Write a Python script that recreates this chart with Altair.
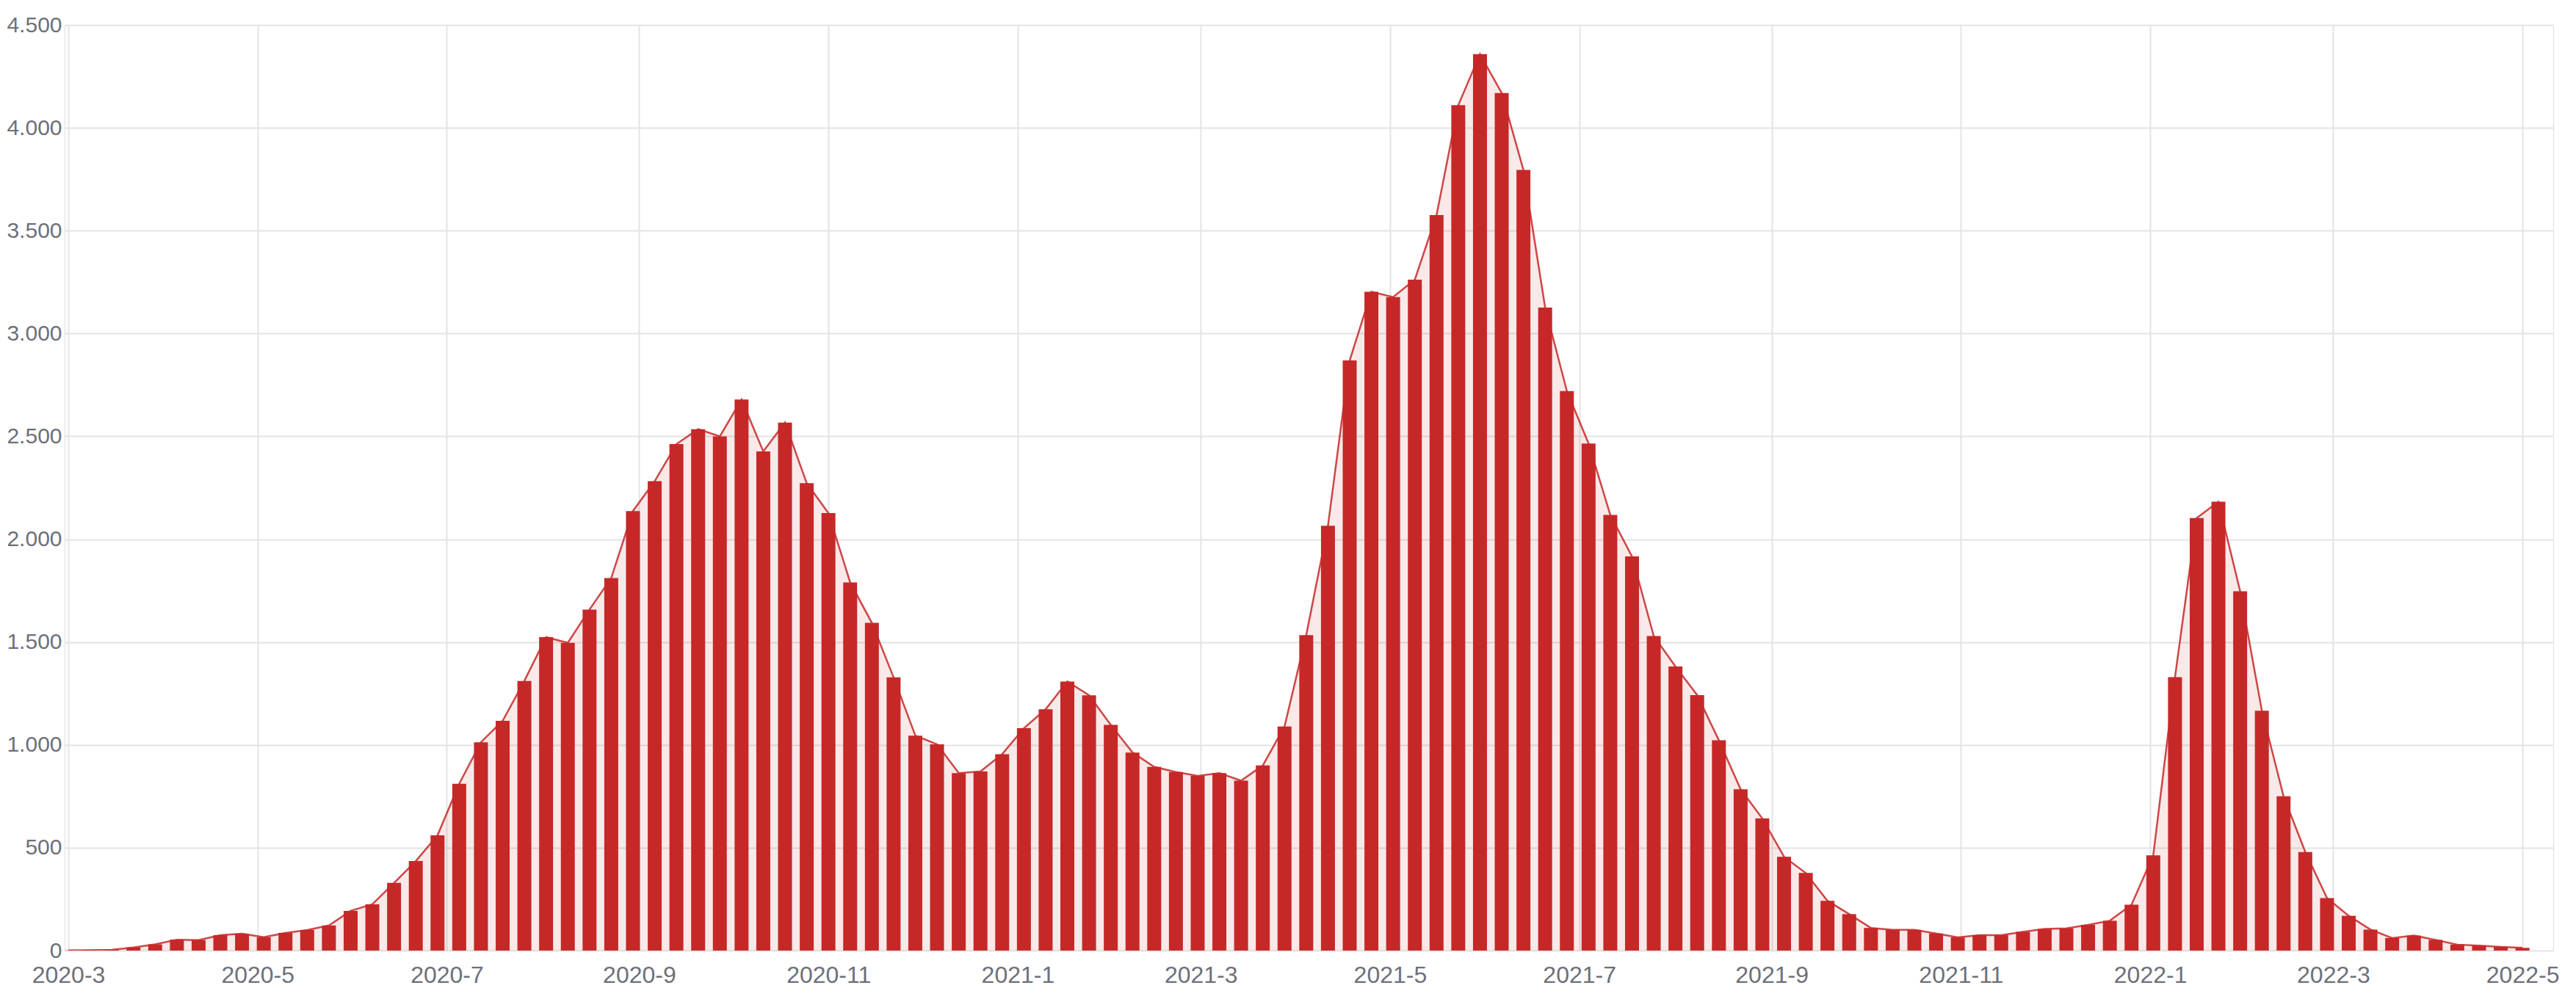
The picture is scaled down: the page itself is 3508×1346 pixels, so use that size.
import altair as alt
import pandas as pd

# Weekly new cases, one value per week starting 2020-03-01
first_week = "2020-03-01"
cases = [
    1, 2, 4, 15, 30, 53, 51, 75, 82, 65,
    86, 100, 122, 193, 225, 329, 435, 560, 811, 1013,
    1117, 1311, 1524, 1496, 1658, 1811, 2137, 2282, 2462, 2535,
    2500, 2679, 2427, 2567, 2272, 2127, 1790, 1593, 1328, 1045,
    1003, 863, 871, 955, 1081, 1173, 1308, 1241, 1097, 963,
    893, 868, 849, 863, 826, 900, 1089, 1534, 2065, 2869,
    3203, 3177, 3262, 3576, 4110, 4358, 4169, 3795, 3126, 2720,
    2465, 2118, 1916, 1529, 1381, 1242, 1022, 784, 642, 456,
    377, 242, 177, 110, 101, 101, 83, 64, 75, 75,
    91, 105, 108, 125, 145, 223, 463, 1329, 2103, 2182,
    1747, 1166, 750, 479, 255, 169, 102, 61, 73, 52,
    29, 24, 18, 13,
]
weeks = pd.date_range(first_week, periods=len(cases), freq="7D").strftime("%Y-%m-%d").tolist()

# x tick positions (every two months) and y ticks
tick_months = [(2020, 3), (2020, 5), (2020, 7), (2020, 9), (2020, 11),
               (2021, 1), (2021, 3), (2021, 5), (2021, 7), (2021, 9), (2021, 11),
               (2022, 1), (2022, 3), (2022, 5)]
y_ticks = [0, 500, 1000, 1500, 2000, 2500, 3000, 3500, 4000, 4500]

df = pd.DataFrame({"week": weeks, "cases": cases})

RED = "#c62828"
GRID = "#e4e4e4"
LABEL = "#6e7079"
FONT = "Liberation Sans"

x_axis = alt.Axis(
    values=[alt.DateTime(year=y, month=m, date=1, utc=True) for y, m in tick_months],
    labelExpr="utcyear(datum.value) + '-' + (utcmonth(datum.value) + 1)",
    grid=True, gridColor=GRID, gridWidth=2,
    domain=False, ticks=False, tickSize=0,
    labelPadding=18, labelFontSize=32, labelFont=FONT, labelColor=LABEL,
    labelAngle=0, labelOverlap=False, labelFlush=False, title=None,
)
y_axis = alt.Axis(
    values=y_ticks,
    labelExpr="replace(format(datum.value, ','), ',', '.')",
    grid=True, gridColor=GRID, gridWidth=2,
    domain=False, ticks=False, tickSize=0,
    labelPadding=4, labelFontSize=30, labelFont=FONT, labelColor=LABEL,
    labelFlush=False, title=None,
)

x_enc = alt.X(
    "week:T",
    scale=alt.Scale(
        type="utc",
        domain=[alt.DateTime(year=2020, month=3, date=1, utc=True),
                alt.DateTime(year=2022, month=5, date=9, hours=17, minutes=30, utc=True)],
    ),
    axis=x_axis,
)
y_enc = alt.Y("cases:Q", scale=alt.Scale(domain=[0, 4500], nice=False), axis=y_axis)

base = alt.Chart(df).encode(x=x_enc, y=y_enc)

area = base.mark_area(color=RED, opacity=0.1, clip=True)
bars = base.mark_bar(color=RED, size=19, clip=True)
line = base.mark_line(color=RED, opacity=0.85, strokeWidth=2.5, clip=True)

chart = (
    alt.layer(area, bars, line)
    .properties(
        width=3389,
        height=1261,
        autosize=alt.AutoSizeParams(type="none"),
        padding={"left": 80, "top": 26, "right": 23, "bottom": 50},
    )
    .configure_view(stroke=None)
    .configure(background="white")
)

chart.save("out.html", embed_options={"renderer": "svg", "actions": False})
